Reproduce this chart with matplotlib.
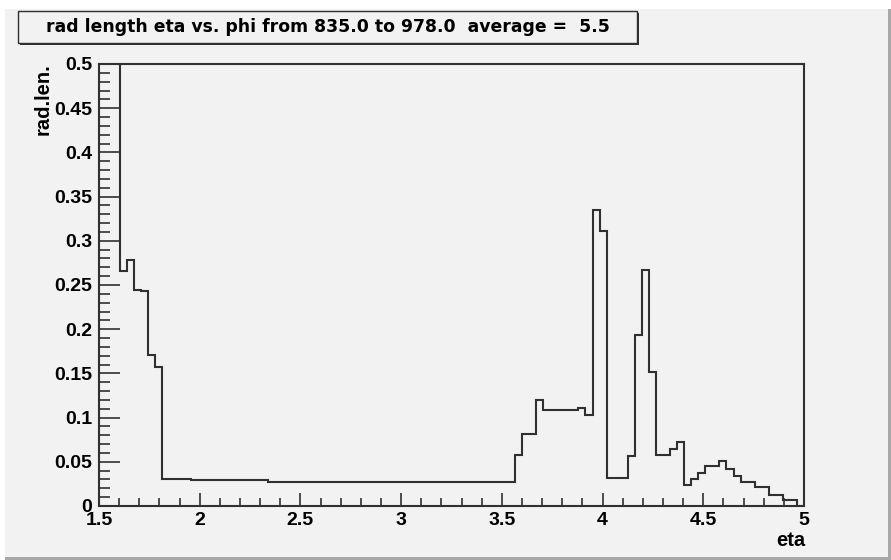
"""ROOT-style radiation length histogram (eta vs. phi slice)."""

import matplotlib

matplotlib.use("Agg")
import matplotlib.pyplot as plt
import numpy as np
from matplotlib.patches import Rectangle
from matplotlib.ticker import FuncFormatter, MultipleLocator

plt.rcParams["font.family"] = ["Liberation Sans", "DejaVu Sans"]
plt.rcParams["font.weight"] = "bold"

# 100 bins of 0.035 from eta = 1.5 to 5.0
eta_lo, eta_hi, n_bins = 1.5, 5.0, 100
rad_len = [
    0.62, 0.56, 0.52, 0.266, 0.278, 0.244, 0.243, 0.171, 0.157, 0.030,
    0.030, 0.030, 0.030, 0.029, 0.029, 0.029, 0.029, 0.029, 0.029, 0.029,
    0.029, 0.029, 0.029, 0.029, 0.027, 0.027, 0.027, 0.027, 0.027, 0.027,
    0.027, 0.027, 0.027, 0.027, 0.027, 0.027, 0.027, 0.027, 0.027, 0.027,
    0.027, 0.027, 0.027, 0.027, 0.027, 0.027, 0.027, 0.027, 0.027, 0.027,
    0.027, 0.027, 0.027, 0.027, 0.027, 0.027, 0.027, 0.027, 0.027, 0.058,
    0.081, 0.081, 0.120, 0.109, 0.109, 0.109, 0.109, 0.109, 0.111, 0.103,
    0.335, 0.311, 0.032, 0.032, 0.032, 0.057, 0.193, 0.267, 0.152, 0.058,
    0.058, 0.065, 0.072, 0.024, 0.031, 0.037, 0.045, 0.045, 0.051, 0.042,
    0.034, 0.027, 0.027, 0.021, 0.021, 0.013, 0.013, 0.007, 0.007, 0.0,
]
title = "rad length eta vs. phi from 835.0 to 978.0  average =  5.5"
x_label = "eta"
y_label = "rad.len."

W, H = 891, 560
bg = "#f2f2f2"
ink = "#303030"
fig = plt.figure(figsize=(W / 100, H / 100), dpi=100, facecolor=bg)


def fx(px):
    return px / W


def fy(py):
    return 1 - py / H


# page strip above the canvas and canvas border
fig.patches.append(Rectangle((0, fy(9)), 1, 9 / H, transform=fig.transFigure,
                             facecolor="white", edgecolor="none", zorder=0))
fig.patches.append(Rectangle((0, 0), fx(5), fy(9), transform=fig.transFigure,
                             facecolor="white", edgecolor="none", zorder=0))
fig.patches.append(Rectangle((fx(5), 0), 1, 3 / H, transform=fig.transFigure,
                             facecolor="#a8a8a8", edgecolor="none", zorder=0))
fig.patches.append(Rectangle((fx(888), 0), 3 / W, fy(9), transform=fig.transFigure,
                             facecolor="#a8a8a8", edgecolor="none", zorder=0))

ax = fig.add_axes([fx(99), fy(506), fx(804) - fx(99), fy(64) - fy(506)])
ax.set_facecolor(bg)

edges = np.linspace(eta_lo, eta_hi, n_bins + 1)
ax.stairs(rad_len, edges, color=ink, linewidth=1.5, baseline=None)

ax.set_xlim(eta_lo, eta_hi)
ax.set_ylim(0, 0.5)
for side in ("left", "bottom", "right", "top"):
    ax.spines[side].set_linewidth(1.5)
    ax.spines[side].set_color(ink)

ax.xaxis.set_major_locator(MultipleLocator(0.5))
ax.xaxis.set_minor_locator(MultipleLocator(0.1))
ax.yaxis.set_major_locator(MultipleLocator(0.05))
ax.yaxis.set_minor_locator(MultipleLocator(0.01))
fmt = FuncFormatter(lambda v, p: f"{v:.10g}")
ax.xaxis.set_major_formatter(fmt)
ax.yaxis.set_major_formatter(fmt)

ax.xaxis.set_tick_params(which="major", direction="in", length=9.5, width=1.2,
                         pad=4, labelsize=14, color=ink)
ax.xaxis.set_tick_params(which="minor", direction="in", length=5.5, width=1.2,
                         color=ink)
ax.yaxis.set_tick_params(which="major", direction="in", length=15, width=1.2,
                         pad=5, labelsize=14, color=ink)
ax.yaxis.set_tick_params(which="minor", direction="in", length=8, width=1.2,
                         color=ink)
for lab in ax.get_xticklabels() + ax.get_yticklabels():
    lab.set_fontweight("bold")

# axis titles
fig.text(fx(43), fy(63), y_label, rotation=90, ha="center", va="top",
         fontsize=14.5, fontweight="bold")
fig.text(fx(805), fy(541), x_label, ha="right", va="center",
         fontsize=14.5, fontweight="bold")

# title box with shadow
fig.patches.append(Rectangle((fx(20), fy(45)), fx(637) - fx(18), fy(11) - fy(43),
                             transform=fig.transFigure, facecolor=ink,
                             edgecolor="none", zorder=1))
fig.patches.append(Rectangle((fx(18), fy(43)), fx(637) - fx(18), fy(11) - fy(43),
                             transform=fig.transFigure, facecolor=bg,
                             edgecolor=ink, linewidth=1.0, zorder=2))
fig.text(fx(328), fy(27.5), title, ha="center", va="center",
         fontsize=12.4, fontweight="bold", family="DejaVu Sans", zorder=3)

fig.savefig("out.png", dpi=100, facecolor=bg)
